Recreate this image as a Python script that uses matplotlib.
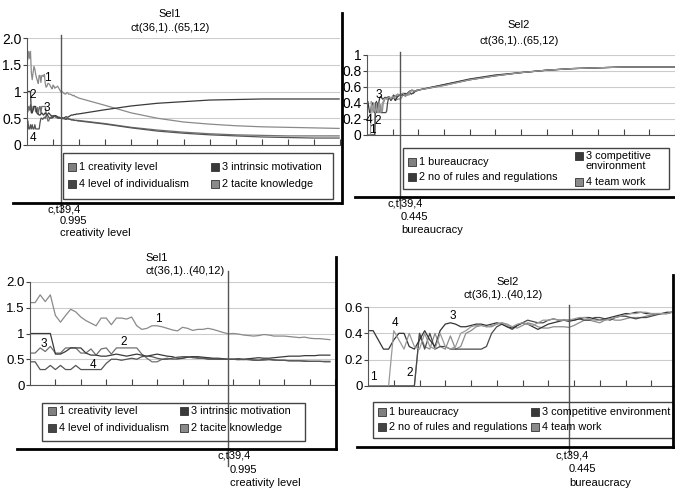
import matplotlib.pyplot as plt
from matplotlib.lines import Line2D
from matplotlib.patches import Rectangle

plt.rcParams['font.family'] = ['Liberation Sans', 'DejaVu Sans']

W, H = 675, 491

# monthly values from ct(36,1); the lower charts show the first 60 months
creativity = [1.6, 1.6, 1.75, 1.62, 1.75, 1.35, 1.22, 1.35, 1.47, 1.42,
              1.32, 1.25, 1.2, 1.15, 1.3, 1.3, 1.17, 1.3, 1.3, 1.28,
              1.32, 1.15, 1.08, 1.1, 1.15, 1.15, 1.13, 1.1, 1.07, 1.05,
              1.12, 1.1, 1.06, 1.08, 1.08, 1.1, 1.08, 1.05, 1.02, 0.995,
              1.0, 0.99, 0.97, 0.96, 0.95, 0.96, 0.98, 0.97, 0.95, 0.95,
              0.95, 0.94, 0.93, 0.92, 0.93, 0.91, 0.9, 0.9, 0.89, 0.88]
tacite = [0.62, 0.62, 0.72, 0.65, 0.75, 0.62, 0.62, 0.72, 0.72, 0.72,
          0.62, 0.62, 0.7, 0.58, 0.7, 0.72, 0.6, 0.72, 0.72, 0.72,
          0.72, 0.72, 0.6, 0.52, 0.45, 0.45, 0.5, 0.52, 0.5, 0.5,
          0.52, 0.54, 0.55, 0.53, 0.52, 0.52, 0.51, 0.5, 0.5, 0.5,
          0.5, 0.5, 0.49, 0.5, 0.49, 0.48, 0.48, 0.49, 0.48, 0.48,
          0.48, 0.47, 0.47, 0.47, 0.47, 0.46, 0.46, 0.46, 0.46, 0.46]
intrinsic = [1.0, 1.0, 1.0, 1.0, 1.0, 0.6, 0.6, 0.65, 0.72, 0.72,
             0.72, 0.62, 0.58, 0.58, 0.56, 0.56, 0.58, 0.6, 0.58, 0.56,
             0.58, 0.6, 0.58, 0.56, 0.58, 0.6, 0.58, 0.56, 0.55, 0.52,
             0.52, 0.54, 0.55, 0.55, 0.54, 0.53, 0.52, 0.52, 0.51, 0.5,
             0.5, 0.51, 0.5, 0.51, 0.52, 0.53, 0.52, 0.52, 0.53, 0.54,
             0.55, 0.56, 0.56, 0.56, 0.57, 0.57, 0.57, 0.58, 0.58, 0.58]
individualism = [0.45, 0.45, 0.3, 0.3, 0.38, 0.3, 0.38, 0.3, 0.3, 0.38,
                 0.3, 0.3, 0.3, 0.3, 0.3, 0.42, 0.5, 0.5, 0.48, 0.5,
                 0.52, 0.5, 0.55, 0.56, 0.55, 0.52, 0.5, 0.5, 0.52, 0.54,
                 0.55, 0.55, 0.53, 0.52, 0.52, 0.5, 0.5, 0.5, 0.5, 0.5,
                 0.5, 0.49, 0.5, 0.49, 0.48, 0.48, 0.5, 0.5, 0.49, 0.48,
                 0.48, 0.47, 0.47, 0.47, 0.46, 0.46, 0.46, 0.46, 0.45, 0.45]

bureau = [0, 0, 0, 0, 0, 0, 0, 0, 0, 0,
          0.4, 0.3, 0.28, 0.4, 0.3, 0.28, 0.38, 0.28, 0.3, 0.4,
          0.42, 0.45, 0.46, 0.45, 0.45, 0.47, 0.48, 0.47, 0.45, 0.44,
          0.46, 0.48, 0.47, 0.45, 0.44, 0.44, 0.45, 0.45, 0.45, 0.445,
          0.46, 0.48, 0.5, 0.5, 0.49, 0.48, 0.5, 0.51, 0.5, 0.5,
          0.51, 0.52, 0.52, 0.52, 0.53, 0.54, 0.55, 0.55, 0.55, 0.56]
rules = [0, 0, 0, 0, 0, 0, 0, 0, 0, 0,
         0.4, 0.28, 0.4, 0.28, 0.3, 0.3, 0.28, 0.28, 0.28, 0.28,
         0.28, 0.28, 0.28, 0.3, 0.4, 0.45, 0.47, 0.45, 0.43, 0.46,
         0.48, 0.5, 0.49, 0.48, 0.48, 0.5, 0.51, 0.5, 0.5, 0.49,
         0.5, 0.51, 0.5, 0.5, 0.52, 0.52, 0.51, 0.5, 0.52, 0.53,
         0.53, 0.52, 0.51, 0.52, 0.52, 0.53, 0.54, 0.55, 0.55, 0.56]
compet = [0.42, 0.42, 0.35, 0.28, 0.28, 0.35, 0.4, 0.4, 0.3, 0.28,
          0.35, 0.42, 0.35, 0.3, 0.42, 0.47, 0.48, 0.47, 0.45, 0.45,
          0.46, 0.47, 0.47, 0.46, 0.47, 0.48, 0.47, 0.45, 0.44, 0.46,
          0.48, 0.47, 0.45, 0.43, 0.45, 0.47, 0.48, 0.49, 0.5, 0.5,
          0.5, 0.51, 0.52, 0.52, 0.51, 0.5, 0.51, 0.52, 0.53, 0.54,
          0.55, 0.55, 0.56, 0.56, 0.55, 0.55, 0.55, 0.55, 0.56, 0.56]
team = [0, 0, 0, 0, 0, 0.42, 0.35, 0.28, 0.4, 0.3,
        0.28, 0.4, 0.3, 0.28, 0.4, 0.3, 0.28, 0.3, 0.4, 0.42,
        0.45, 0.46, 0.46, 0.45, 0.46, 0.47, 0.48, 0.46, 0.45, 0.47,
        0.48, 0.47, 0.46, 0.48, 0.5, 0.5, 0.51, 0.5, 0.5, 0.5,
        0.51, 0.52, 0.52, 0.51, 0.5, 0.5, 0.5, 0.51, 0.52, 0.53,
        0.54, 0.55, 0.55, 0.56, 0.56, 0.55, 0.55, 0.55, 0.55, 0.56]

# later months (read at coarser steps) for the ct(36,1)..(65,12) charts
long_months = [90, 120, 150, 180, 210, 240, 270, 300, 330, 359]
creativity_long = [0.74, 0.6, 0.5, 0.43, 0.39, 0.36, 0.34, 0.33, 0.32, 0.31]
tacite_long = [0.4, 0.33, 0.28, 0.24, 0.21, 0.19, 0.18, 0.17, 0.17, 0.17]
intrinsic_long = [0.66, 0.73, 0.78, 0.81, 0.84, 0.85, 0.86, 0.86, 0.86, 0.86]
individualism_long = [0.39, 0.32, 0.26, 0.22, 0.19, 0.17, 0.15, 0.14, 0.13, 0.13]
bureau_long = [0.63, 0.69, 0.74, 0.78, 0.81, 0.83, 0.84, 0.85, 0.85, 0.85]
rules_long = [0.62, 0.69, 0.74, 0.78, 0.81, 0.83, 0.84, 0.85, 0.85, 0.85]
compet_long = [0.63, 0.7, 0.75, 0.78, 0.81, 0.83, 0.84, 0.85, 0.85, 0.85]
team_long = [0.62, 0.69, 0.74, 0.78, 0.81, 0.83, 0.84, 0.85, 0.85, 0.85]

cursor_month = 39
months = list(range(60))
all_months = months + long_months

c1, c2, c3, c4 = '#8a8a8a', '#707070', '#3a3a3a', '#555555'
b1c, b2c, b3c, b4c = '#8c8c8c', '#4a4a4a', '#333333', '#9a9a9a'
LEG_FS = 7.8


def fx(x):
    return x / W


def fy(y):
    return 1 - y / H


fig = plt.figure(figsize=(6.75, 4.91), dpi=100)


def make_ax(x0, y0, x1, y1):
    return fig.add_axes([fx(x0), fy(y1), (x1 - x0) / W, (y1 - y0) / H])


def setup(ax, xmax, xstep, yticks, ylabels, fs):
    ax.set_xlim(0, xmax)
    ax.set_ylim(yticks[0], yticks[-1])
    ax.set_yticks(yticks)
    ax.set_yticklabels(ylabels, fontsize=fs)
    ax.set_xticks(range(xstep, int(xmax) + 1, xstep))
    ax.tick_params(axis='x', direction='in', length=4, labelbottom=False, color='#444')
    ax.tick_params(axis='y', length=3, pad=1, color='#444')
    for s in ['top', 'right']:
        ax.spines[s].set_visible(False)
    for s in ['left', 'bottom']:
        ax.spines[s].set_color('#555')
    ax.grid(axis='y', color='#cccccc', lw=0.8)
    ax.set_axisbelow(True)
    ax.patch.set_alpha(0)


def hline(x0, x1, y, lw=2, color='black'):
    fig.add_artist(Line2D([fx(x0), fx(x1)], [fy(y), fy(y)], color=color, lw=lw))


def vline(x, y0, y1, lw=2, color='black'):
    fig.add_artist(Line2D([fx(x), fx(x)], [fy(y0), fy(y1)], color=color, lw=lw))


def legend_box(x0, y0, x1, y1, items):
    fig.add_artist(Rectangle((fx(x0), fy(y1)), (x1 - x0) / W, (y1 - y0) / H,
                             fill=False, edgecolor='#444', lw=1))
    for sx, sy, col, label in items:
        fig.add_artist(Rectangle((fx(sx), fy(sy + 4)), 8 / W, 8 / H,
                                 facecolor=col, edgecolor='#333', lw=0.6))
        fig.text(fx(sx + 11), fy(sy), label, fontsize=LEG_FS, va='center', ha='left')


def cursor(ax, top_px, bottom_px, ax_top, ax_bottom):
    span = ax_bottom - ax_top
    ax.plot([cursor_month, cursor_month],
            [(ax_bottom - top_px) / span, (ax_bottom - bottom_px) / span],
            transform=ax.get_xaxis_transform(), color='#555', lw=1, clip_on=False)


# ---- top left: Sel1, long run
ax1 = make_ax(27, 38, 340, 145)
setup(ax1, 360, 30, [0, 0.5, 1, 1.5, 2.0], ['0', '0.5', '1', '1.5', '2.0'], 10)
ax1.plot(all_months, creativity + creativity_long, color=c1, lw=0.9)
ax1.plot(all_months, tacite + tacite_long, color=c2, lw=0.9)
ax1.plot(all_months, intrinsic + intrinsic_long, color=c3, lw=0.9)
ax1.plot(all_months, individualism + individualism_long, color=c4, lw=0.9)
for t, x, y in [('1', 23, 1.25), ('2', 7, 0.93), ('3', 23, 0.69), ('4', 7, 0.13)]:
    ax1.text(x, y, t, fontsize=8.5, ha='center', va='center')
cursor(ax1, 35, 212, 38, 145)
fig.text(fx(170), fy(14), 'Sel1', fontsize=8, ha='center', va='center')
fig.text(fx(170), fy(28), 'ct(36,1)..(65,12)', fontsize=8, ha='center', va='center')
legend_box(63, 153, 333, 199, [
    (68, 167, '#808080', '1 creativity level'),
    (211, 167, '#3a3a3a', '3 intrinsic motivation'),
    (68, 184, '#454545', '4 level of individualism'),
    (211, 184, '#8a8a8a', '2 tacite knowledge')])
hline(13, 341, 203)
vline(342, 13, 203)
fig.text(fx(47), fy(210), 'c,t39,4', fontsize=8, va='center')
fig.text(fx(60), fy(221), '0.995', fontsize=8, va='center')
fig.text(fx(60), fy(233), 'creativity level', fontsize=8, va='center')

# ---- top right: Sel2, long run
ax2 = make_ax(367, 55, 675, 135)
setup(ax2, 360, 30, [0, 0.2, 0.4, 0.6, 0.8, 1], ['0', '0.2', '0.4', '0.6', '0.8', '1'], 10)
ax2.plot(all_months, bureau + bureau_long, color=b1c, lw=0.9)
ax2.plot(all_months, rules + rules_long, color=b2c, lw=0.9)
ax2.plot(all_months, compet + compet_long, color=b3c, lw=0.9)
ax2.plot(all_months, team + team_long, color=b4c, lw=0.9)
for t, x, y in [('3', 14, 0.5), ('4', 2, 0.19), ('2', 12, 0.18), ('1', 6, 0.06)]:
    ax2.text(x, y, t, fontsize=8.5, ha='center', va='center')
cursor(ax2, 52, 208, 55, 135)
fig.text(fx(519), fy(25), 'Sel2', fontsize=8, ha='center', va='center')
fig.text(fx(519), fy(41), 'ct(36,1)..(65,12)', fontsize=8, ha='center', va='center')
legend_box(403, 148, 669, 189, [
    (408, 162, '#808080', '1 bureaucracy'),
    (408, 177, '#3a3a3a', '2 no of rules and regulations'),
    (575, 182, '#8a8a8a', '4 team work')])
fig.add_artist(Rectangle((fx(575), fy(160)), 8 / W, 8 / H,
                         facecolor='#3a3a3a', edgecolor='#333', lw=0.6))
fig.text(fx(586), fy(161), '3 competitive\nenvironment', fontsize=LEG_FS, va='center',
         ha='left', linespacing=0.9)
hline(355, 675, 197)
fig.text(fx(387), fy(204), "c,t'39,4", fontsize=8, va='center')
fig.text(fx(401), fy(217), '0.445', fontsize=8, va='center')
fig.text(fx(401), fy(230), 'bureaucracy', fontsize=8, va='center')

# ---- bottom left: Sel1, first 60 months
ax3 = make_ax(30, 282, 335, 385)
setup(ax3, 60, 5, [0, 0.5, 1, 1.5, 2.0], ['0', '0.5', '1', '1.5', '2.0'], 9.5)
ax3.plot(months, creativity, color=c1, lw=0.9)
ax3.plot(months, tacite, color=c2, lw=0.9)
ax3.plot(months, intrinsic, color=c3, lw=0.9)
ax3.plot(months, individualism, color=c4, lw=0.9)
for t, x, y in [('1', 25.2, 1.28), ('3', 2.8, 0.8), ('2', 18.5, 0.83), ('4', 12.4, 0.39)]:
    ax3.text(x, y, t, fontsize=8.5, ha='center', va='center')
cursor(ax3, 271, 466, 282, 385)
fig.text(fx(145), fy(258), 'Sel1', fontsize=8, ha='left', va='center')
fig.text(fx(145), fy(271), 'ct(36,1)..(40,12)', fontsize=8, ha='left', va='center')
legend_box(42, 403, 305, 441, [
    (48, 411, '#808080', '1 creativity level'),
    (180, 411, '#3a3a3a', '3 intrinsic motivation'),
    (48, 428, '#454545', '4 level of individualism'),
    (180, 428, '#8a8a8a', '2 tacite knowledge')])
hline(17, 336, 449)
vline(336, 257, 449)
fig.text(fx(217), fy(456), 'c,t39,4', fontsize=8, va='center')
fig.text(fx(230), fy(470), '0.995', fontsize=8, va='center')
fig.text(fx(230), fy(483), 'creativity level', fontsize=8, va='center')

# ---- bottom right: Sel2, first 60 months
ax4 = make_ax(368, 307, 675, 386)
setup(ax4, 59.6, 5, [0, 0.2, 0.4, 0.6], ['0', '0.2', '0.4', '0.6'], 9.5)
ax4.plot(months, bureau, color=b1c, lw=0.9)
ax4.plot(months, rules, color=b2c, lw=0.9)
ax4.plot(months, compet, color=b3c, lw=0.9)
ax4.plot(months, team, color=b4c, lw=0.9)
for t, x, y in [('1', 1, 0.07), ('4', 5.2, 0.48), ('2', 8, 0.1), ('3', 16.5, 0.53)]:
    ax4.text(x, y, t, fontsize=8.5, ha='center', va='center')
cursor(ax4, 305, 455, 307, 386)
fig.text(fx(508), fy(282), 'Sel2', fontsize=8, ha='center', va='center')
fig.text(fx(503), fy(295), 'ct(36,1)..(40,12)', fontsize=8, ha='center', va='center')
legend_box(373, 402, 673, 438, [
    (378, 412, '#808080', '1 bureaucracy'),
    (531, 412, '#3a3a3a', '3 competitive environment'),
    (378, 427, '#454545', '2 no of rules and regulations'),
    (531, 427, '#8a8a8a', '4 team work')])
hline(357, 675, 447)
vline(673, 275, 447)
fig.text(fx(555), fy(455), 'c,t39,4', fontsize=8, va='center')
fig.text(fx(569), fy(469), '0.445', fontsize=8, va='center')
fig.text(fx(569), fy(483), 'bureaucracy', fontsize=8, va='center')

fig.savefig('out.png', dpi=100)
